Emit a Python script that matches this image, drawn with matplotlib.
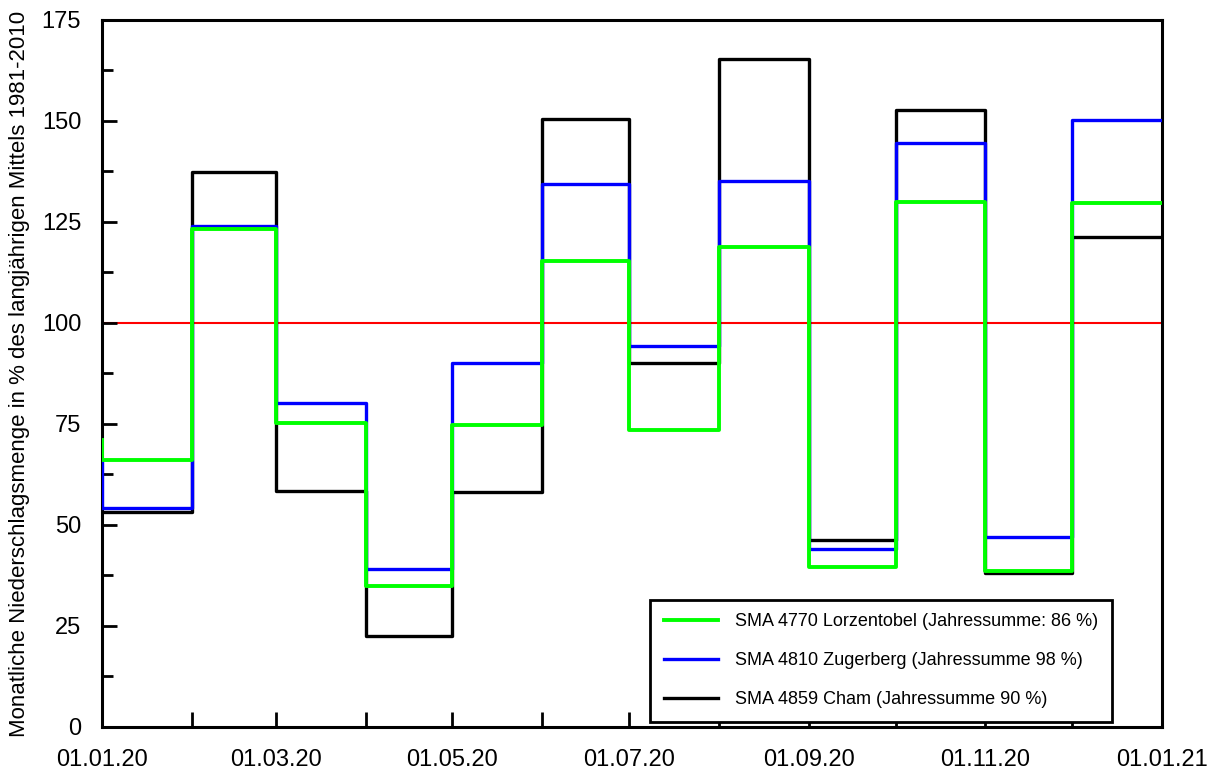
import numpy as np
import matplotlib
matplotlib.use("Agg")
import matplotlib.pyplot as plt
import matplotlib.dates as mdates
import datetime as dt

plt.rcParams['font.family'] = ['Liberation Sans', 'DejaVu Sans']

# monthly precipitation in % of 1981-2010 mean, Jan..Dec 2020
months = [dt.date(2020, m, 1) for m in range(1, 13)]
lorzentobel = [66.1, 123.3, 75.2, 34.9, 74.7, 115.3, 73.4, 118.9, 39.7, 130.0, 38.7, 129.8]
zugerberg = [54.2, 124.0, 80.1, 39.0, 90.2, 134.5, 94.2, 135.1, 44.1, 144.6, 47.0, 150.2]
cham = [53.3, 137.4, 58.5, 22.4, 58.2, 150.4, 90.0, 165.3, 46.2, 152.6, 38.2, 121.4]
# December 2019 values (only the stub at the left edge is visible)
prev_lorzentobel = 71.0
prev_zugerberg = 66.0
prev_cham = 53.3

labels = ["SMA 4770 Lorzentobel (Jahressumme: 86 %)",
          "SMA 4810 Zugerberg (Jahressumme 98 %)",
          "SMA 4859 Cham (Jahressumme 90 %)"]

x = [months[0]] + months + [dt.date(2021, 1, 1)]

fig = plt.figure(figsize=(12.13, 7.71), dpi=100)
ax = fig.add_axes([0.0841, 0.0571, 0.8739, 0.9170])

ax.axhline(100, color='#ff0000', lw=1.5, zorder=1)
ax.plot(x, [prev_cham] + cham + [cham[-1]], drawstyle='steps-post', color='black', lw=2.4, label=labels[2], zorder=2)
ax.plot(x, [prev_zugerberg] + zugerberg + [zugerberg[-1]], drawstyle='steps-post', color='#0000ff', lw=2.4, label=labels[1], zorder=3)
ax.plot(x, [prev_lorzentobel] + lorzentobel + [lorzentobel[-1]], drawstyle='steps-post', color='#00ff00', lw=2.8, label=labels[0], zorder=4)

ax.set_xlim(dt.date(2020, 1, 1), dt.date(2021, 1, 1))
ax.set_ylim(0, 175)
ax.set_yticks(np.arange(0, 176, 25))
ax.set_yticks(np.arange(12.5, 175, 25), minor=True)
ax.xaxis.set_major_locator(mdates.MonthLocator(bymonth=[1, 3, 5, 7, 9, 11]))
ax.xaxis.set_minor_locator(mdates.MonthLocator())
ax.xaxis.set_major_formatter(mdates.DateFormatter('%d.%m.%y'))

ax.tick_params(which='both', direction='in', width=2, labelsize=17)
ax.tick_params(axis='x', which='both', length=11, pad=16)
ax.tick_params(axis='y', which='major', length=11, pad=15)
ax.tick_params(axis='y', which='minor', length=8)
for s in ax.spines.values():
    s.set_linewidth(2.2)

ax.set_ylabel("Monatliche Niederschlagsmenge in % des langjährigen Mittels 1981-2010",
              fontsize=16)
ax.yaxis.set_label_coords(-0.068, 0.5)

h, l = ax.get_legend_handles_labels()
leg = ax.legend(h[::-1], l[::-1], loc='lower right', fontsize=13, frameon=True, fancybox=False,
                framealpha=1, edgecolor='black', handlelength=3.0, handletextpad=0.95,
                labelspacing=1.22, borderpad=0.75, borderaxespad=0, bbox_to_anchor=(0.9528, 0.007))
leg.get_frame().set_linewidth(2)

fig.savefig("out.png", dpi=100)
